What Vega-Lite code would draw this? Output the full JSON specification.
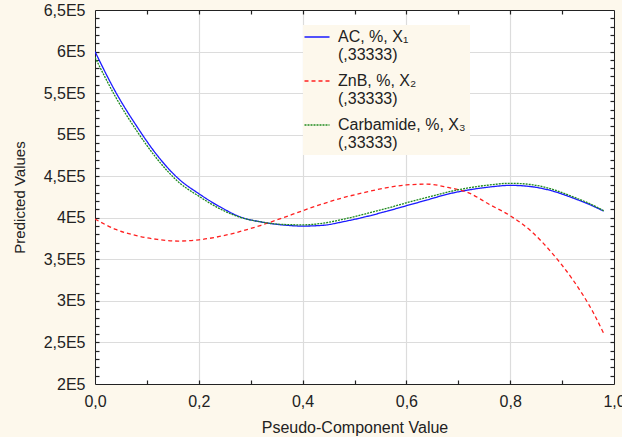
{
  "$schema": "https://vega.github.io/schema/vega-lite/v6.json",
  "autosize": "none",
  "width": 519,
  "height": 374,
  "padding": {"left": 95, "top": 10, "right": 8, "bottom": 53},
  "background": "#fdf8ec",
  "config": {
    "view": {"fill": "white", "stroke": null},
    "font": "Liberation Sans",
    "axis": {
      "labelFont": "Liberation Sans",
      "titleFont": "Liberation Sans",
      "labelFontSize": 16,
      "titleFontSize": 16,
      "titleFontWeight": "normal",
      "labelColor": "#222222",
      "titleColor": "#222222",
      "domainColor": "#222222",
      "tickColor": "#222222",
      "gridColor": "#dcdcdc",
      "gridWidth": 1.2,
      "labelBound": false,
      "labelFlush": false,
      "labelOverlap": false
    }
  },
  "data": {
    "values": [
      {"x": 0.00, "y": 600000, "series": "AC, %, X₁"},
      {"x": 0.04, "y": 551000, "series": "AC, %, X₁"},
      {"x": 0.08, "y": 510500, "series": "AC, %, X₁"},
      {"x": 0.12, "y": 475000, "series": "AC, %, X₁"},
      {"x": 0.16, "y": 447500, "series": "AC, %, X₁"},
      {"x": 0.20, "y": 429000, "series": "AC, %, X₁"},
      {"x": 0.24, "y": 413500, "series": "AC, %, X₁"},
      {"x": 0.28, "y": 401000, "series": "AC, %, X₁"},
      {"x": 0.32, "y": 395000, "series": "AC, %, X₁"},
      {"x": 0.36, "y": 391500, "series": "AC, %, X₁"},
      {"x": 0.40, "y": 390000, "series": "AC, %, X₁"},
      {"x": 0.44, "y": 391000, "series": "AC, %, X₁"},
      {"x": 0.48, "y": 395500, "series": "AC, %, X₁"},
      {"x": 0.52, "y": 401000, "series": "AC, %, X₁"},
      {"x": 0.56, "y": 407500, "series": "AC, %, X₁"},
      {"x": 0.60, "y": 414500, "series": "AC, %, X₁"},
      {"x": 0.64, "y": 421500, "series": "AC, %, X₁"},
      {"x": 0.68, "y": 428500, "series": "AC, %, X₁"},
      {"x": 0.72, "y": 433500, "series": "AC, %, X₁"},
      {"x": 0.76, "y": 437000, "series": "AC, %, X₁"},
      {"x": 0.80, "y": 439000, "series": "AC, %, X₁"},
      {"x": 0.84, "y": 437500, "series": "AC, %, X₁"},
      {"x": 0.88, "y": 432500, "series": "AC, %, X₁"},
      {"x": 0.92, "y": 424000, "series": "AC, %, X₁"},
      {"x": 0.96, "y": 414000, "series": "AC, %, X₁"},
      {"x": 0.98, "y": 408000, "series": "AC, %, X₁"},
      {"x": 0.00, "y": 398500, "series": "ZnB, %, X₂"},
      {"x": 0.04, "y": 386000, "series": "ZnB, %, X₂"},
      {"x": 0.08, "y": 378500, "series": "ZnB, %, X₂"},
      {"x": 0.12, "y": 374000, "series": "ZnB, %, X₂"},
      {"x": 0.16, "y": 372000, "series": "ZnB, %, X₂"},
      {"x": 0.20, "y": 373500, "series": "ZnB, %, X₂"},
      {"x": 0.24, "y": 377500, "series": "ZnB, %, X₂"},
      {"x": 0.28, "y": 383500, "series": "ZnB, %, X₂"},
      {"x": 0.32, "y": 391000, "series": "ZnB, %, X₂"},
      {"x": 0.36, "y": 399500, "series": "ZnB, %, X₂"},
      {"x": 0.40, "y": 408500, "series": "ZnB, %, X₂"},
      {"x": 0.44, "y": 417000, "series": "ZnB, %, X₂"},
      {"x": 0.48, "y": 424500, "series": "ZnB, %, X₂"},
      {"x": 0.52, "y": 430500, "series": "ZnB, %, X₂"},
      {"x": 0.56, "y": 436000, "series": "ZnB, %, X₂"},
      {"x": 0.60, "y": 439500, "series": "ZnB, %, X₂"},
      {"x": 0.64, "y": 440500, "series": "ZnB, %, X₂"},
      {"x": 0.68, "y": 436500, "series": "ZnB, %, X₂"},
      {"x": 0.72, "y": 430000, "series": "ZnB, %, X₂"},
      {"x": 0.76, "y": 416000, "series": "ZnB, %, X₂"},
      {"x": 0.80, "y": 402500, "series": "ZnB, %, X₂"},
      {"x": 0.84, "y": 384000, "series": "ZnB, %, X₂"},
      {"x": 0.88, "y": 358000, "series": "ZnB, %, X₂"},
      {"x": 0.92, "y": 326000, "series": "ZnB, %, X₂"},
      {"x": 0.96, "y": 286000, "series": "ZnB, %, X₂"},
      {"x": 0.98, "y": 261000, "series": "ZnB, %, X₂"},
      {"x": 0.00, "y": 593000, "series": "Carbamide, %, X₃"},
      {"x": 0.04, "y": 545000, "series": "Carbamide, %, X₃"},
      {"x": 0.08, "y": 505000, "series": "Carbamide, %, X₃"},
      {"x": 0.12, "y": 470500, "series": "Carbamide, %, X₃"},
      {"x": 0.16, "y": 443500, "series": "Carbamide, %, X₃"},
      {"x": 0.20, "y": 426000, "series": "Carbamide, %, X₃"},
      {"x": 0.24, "y": 411000, "series": "Carbamide, %, X₃"},
      {"x": 0.28, "y": 400500, "series": "Carbamide, %, X₃"},
      {"x": 0.32, "y": 395000, "series": "Carbamide, %, X₃"},
      {"x": 0.36, "y": 392000, "series": "Carbamide, %, X₃"},
      {"x": 0.40, "y": 391500, "series": "Carbamide, %, X₃"},
      {"x": 0.44, "y": 393500, "series": "Carbamide, %, X₃"},
      {"x": 0.48, "y": 398500, "series": "Carbamide, %, X₃"},
      {"x": 0.52, "y": 404500, "series": "Carbamide, %, X₃"},
      {"x": 0.56, "y": 411000, "series": "Carbamide, %, X₃"},
      {"x": 0.60, "y": 418000, "series": "Carbamide, %, X₃"},
      {"x": 0.64, "y": 424500, "series": "Carbamide, %, X₃"},
      {"x": 0.68, "y": 431000, "series": "Carbamide, %, X₃"},
      {"x": 0.72, "y": 436000, "series": "Carbamide, %, X₃"},
      {"x": 0.76, "y": 439500, "series": "Carbamide, %, X₃"},
      {"x": 0.80, "y": 441500, "series": "Carbamide, %, X₃"},
      {"x": 0.84, "y": 440000, "series": "Carbamide, %, X₃"},
      {"x": 0.88, "y": 434500, "series": "Carbamide, %, X₃"},
      {"x": 0.92, "y": 425500, "series": "Carbamide, %, X₃"},
      {"x": 0.96, "y": 415000, "series": "Carbamide, %, X₃"},
      {"x": 0.98, "y": 408500, "series": "Carbamide, %, X₃"}
    ]
  },
  "resolve": {"axis": {"x": "independent", "y": "independent"}},
  "layer": [
    {
      "mark": {"type": "line", "interpolate": "monotone", "strokeWidth": 1.3, "clip": true},
      "encoding": {
        "x": {
          "field": "x", "type": "quantitative",
          "scale": {"domain": [0, 1], "nice": false, "zero": false},
          "axis": {
            "orient": "bottom",
            "title": "Pseudo-Component Value",
            "values": [0, 0.2, 0.4, 0.6, 0.8, 1.0],
            "labelExpr": "replace(format(datum.value, '.1f'), '.', ',')",
            "ticks": false,
            "domain": true,
            "grid": true,
            "labelPadding": 9,
            "titlePadding": 10
          }
        },
        "y": {
          "field": "y", "type": "quantitative",
          "scale": {"domain": [200000, 650000], "nice": false, "zero": false},
          "axis": {
            "orient": "left",
            "title": "Predicted Values",
            "titleFontSize": 15,
            "values": [200000, 250000, 300000, 350000, 400000, 450000, 500000, 550000, 600000, 650000],
            "labelExpr": "replace(toString(datum.value / 100000), '.', ',') + 'E5'",
            "ticks": false,
            "domain": true,
            "grid": true,
            "labelPadding": 10,
            "titlePadding": 16
          }
        },
        "color": {
          "field": "series", "type": "nominal",
          "scale": {
            "domain": ["AC, %, X₁", "ZnB, %, X₂", "Carbamide, %, X₃"],
            "range": ["#1a1aff", "#ff2020", "#1f8a1f"]
          },
          "legend": {
            "title": null,
            "orient": "none",
            "legendX": 208,
            "legendY": 15,
            "fillColor": "#fdf8ec",
            "padding": 4,
            "symbolType": "M-5,0H5",
            "symbolSize": 25,
            "symbolOffset": 2,
            "symbolStrokeWidth": 1.4,
            "labelFont": "Liberation Sans",
            "labelFontSize": 16,
            "labelColor": "#222222",
            "labelBaseline": "middle",
            "labelLineHeight": 24,
            "labelOffset": 13,
            "labelLimit": 300,
            "rowPadding": 10,
            "labelExpr": "[datum.label, '(,33333)']"
          }
        },
        "strokeDash": {
          "field": "series", "type": "nominal",
          "scale": {
            "domain": ["AC, %, X₁", "ZnB, %, X₂", "Carbamide, %, X₃"],
            "range": [[1, 0], [4, 3], [2, 1]]
          },
          "legend": null
        }
      }
    },
    {
      "mark": {"type": "point", "opacity": 0},
      "encoding": {
        "x": {
          "field": "x", "type": "quantitative",
          "axis": {
            "orient": "bottom", "title": null, "labels": false, "grid": false, "domain": false,
            "values": [0.1, 0.2, 0.3, 0.4, 0.5, 0.6, 0.7, 0.8, 0.9],
            "ticks": true, "tickSize": -4, "tickWidth": 1.2
          }
        },
        "y": {
          "field": "y", "type": "quantitative",
          "axis": {
            "orient": "left", "title": null, "labels": false, "grid": false, "domain": false,
            "values": [210000, 220000, 230000, 240000, 250000, 260000, 270000, 280000, 290000, 300000, 310000, 320000, 330000, 340000, 350000, 360000, 370000, 380000, 390000, 400000, 410000, 420000, 430000, 440000, 450000, 460000, 470000, 480000, 490000, 500000, 510000, 520000, 530000, 540000, 550000, 560000, 570000, 580000, 590000, 600000, 610000, 620000, 630000, 640000],
            "ticks": true, "tickSize": -4, "tickWidth": 1.2
          }
        }
      }
    },
    {
      "mark": {"type": "point", "opacity": 0},
      "encoding": {
        "x": {
          "field": "x", "type": "quantitative",
          "axis": {
            "orient": "top", "title": null, "labels": false, "grid": false, "domain": true,
            "values": [0.1, 0.2, 0.3, 0.4, 0.5, 0.6, 0.7, 0.8, 0.9],
            "ticks": true, "tickSize": -4, "tickWidth": 1.2
          }
        },
        "y": {
          "field": "y", "type": "quantitative",
          "axis": {
            "orient": "right", "title": null, "labels": false, "grid": false, "domain": true,
            "values": [210000, 220000, 230000, 240000, 250000, 260000, 270000, 280000, 290000, 300000, 310000, 320000, 330000, 340000, 350000, 360000, 370000, 380000, 390000, 400000, 410000, 420000, 430000, 440000, 450000, 460000, 470000, 480000, 490000, 500000, 510000, 520000, 530000, 540000, 550000, 560000, 570000, 580000, 590000, 600000, 610000, 620000, 630000, 640000],
            "ticks": true, "tickSize": -4, "tickWidth": 1.2
          }
        }
      }
    }
  ]
}
